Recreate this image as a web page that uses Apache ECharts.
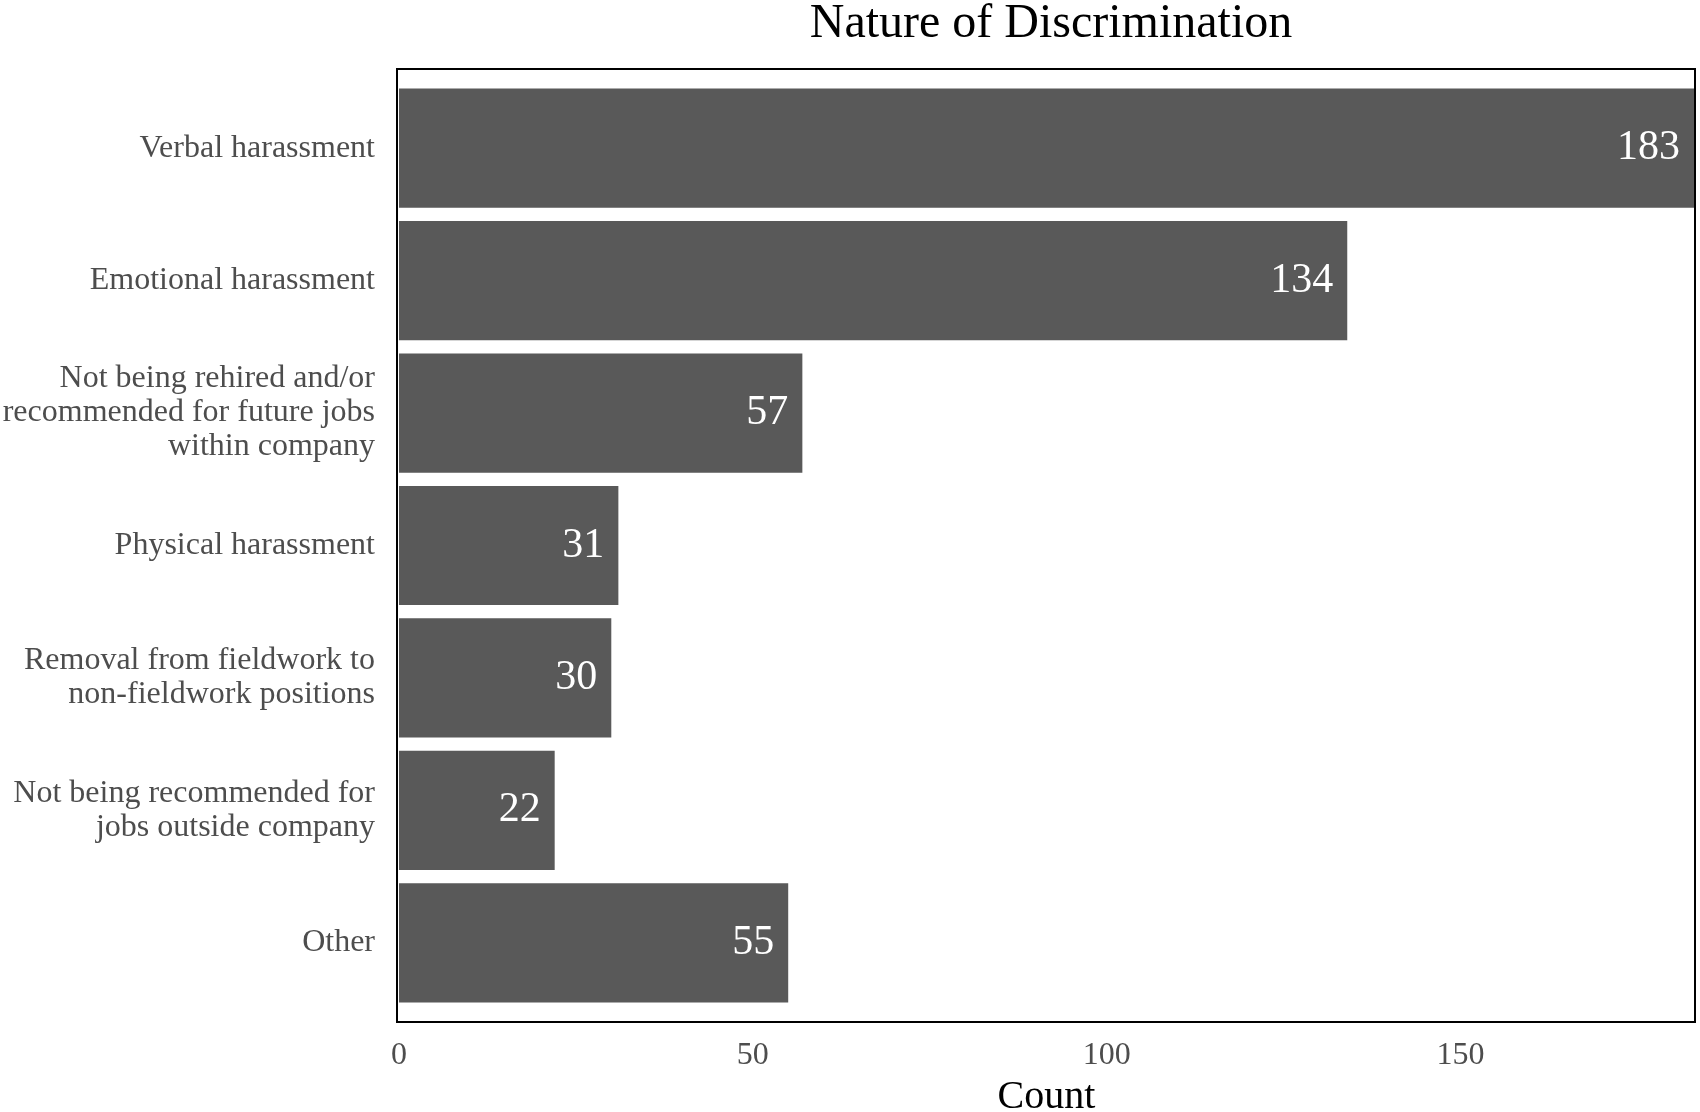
<!DOCTYPE html>
<html>
<head>
<meta charset="utf-8">
<title>Nature of Discrimination</title>
<script src="https://cdn.jsdelivr.net/npm/echarts@6/dist/echarts.min.js"></script>
<style>
  html, body { margin: 0; padding: 0; background: #fff; }
  #chart { width: 1700px; height: 1112px; }
</style>
</head>
<body>
<div id="chart"></div>
<script>
// categories top to bottom
var categories = [
  'Verbal harassment',
  'Emotional harassment',
  'Not being rehired and/or\nrecommended for future jobs\nwithin company',
  'Physical harassment',
  'Removal from fieldwork to\nnon-fieldwork positions',
  'Not being recommended for\njobs outside company',
  'Other'
];
var counts = [183, 134, 57, 31, 30, 22, 55];
var xTicks = [0, 50, 100, 150];

var serif = 'Liberation Serif';

// plot frame (panel border), ggplot style
var frame = { x: 397, y: 69, w: 1298, h: 953 };

var chart = echarts.init(document.getElementById('chart'));
var option = {
  animation: false,
  backgroundColor: '#ffffff',
  title: {
    text: 'Nature of Discrimination',
    left: 1046,
    textAlign: 'center',
    top: -5,
    textStyle: { fontFamily: serif, fontSize: 48, fontWeight: 'normal', color: '#000' }
  },
  // keep the grid exactly where it is put, labels may sit near the edges
  grid: { left: 399, right: 6, top: 82, height: 927, outerBoundsMode: 'none', containLabel: false },
  xAxis: {
    type: 'value',
    min: 0,
    max: 183,
    interval: 50,
    name: 'Count',
    nameLocation: 'middle',
    nameGap: 68,
    nameTextStyle: { fontFamily: serif, fontSize: 40, color: '#000' },
    axisLine: { show: false },
    axisTick: { show: false },
    splitLine: { show: false },
    axisLabel: {
      margin: 31,
      fontFamily: serif,
      fontSize: 32,
      color: '#4d4d4d',
      showMaxLabel: false,
      formatter: function (v) { return xTicks.indexOf(v) >= 0 ? String(v) : ''; }
    }
  },
  yAxis: {
    type: 'category',
    inverse: true,
    data: categories,
    axisLine: { show: false },
    axisTick: { show: false },
    splitLine: { show: false },
    axisLabel: {
      margin: 24,
      fontFamily: serif,
      fontSize: 32,
      lineHeight: 34,
      color: '#4d4d4d',
      align: 'right'
    }
  },
  series: [{
    type: 'bar',
    data: counts,
    barCategoryGap: '10%',
    itemStyle: { color: '#595959' },
    label: {
      show: true,
      position: 'insideRight',
      distance: 14,
      fontFamily: serif,
      fontSize: 42,
      color: '#ffffff'
    }
  }],
  graphic: [{
    type: 'rect',
    silent: true,
    z: 10,
    shape: { x: frame.x, y: frame.y, width: frame.w, height: frame.h },
    style: { fill: 'none', stroke: '#000', lineWidth: 2 }
  }]
};
chart.setOption(option);
</script>
</body>
</html>
